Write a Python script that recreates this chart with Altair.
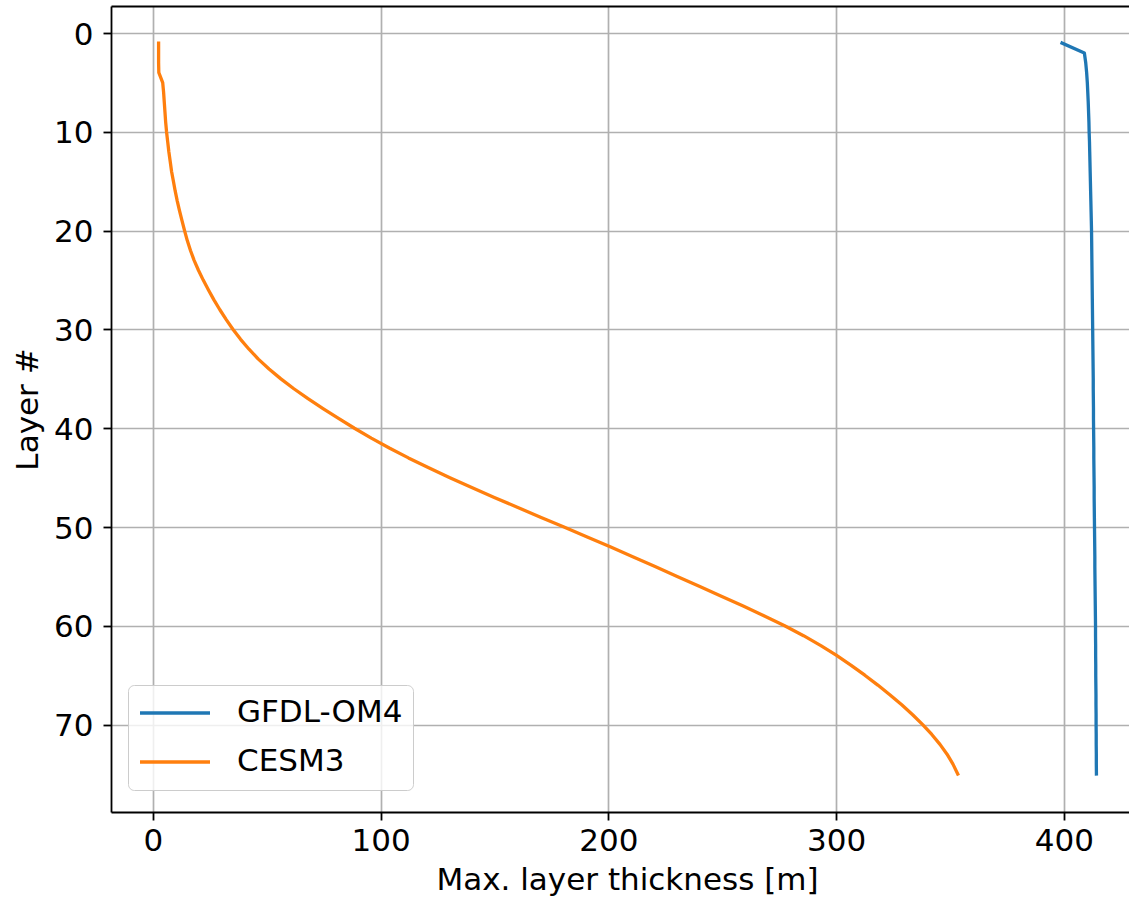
import altair as alt
import pandas as pd

# Layer index (1..75) and maximum layer thickness [m] for each model
layers = list(range(1, 76))

gfdl_om4 = [
    399.2, 409.0, 409.6, 410.0, 410.3, 410.5, 410.7, 410.85, 411.0, 411.1,
    411.25, 411.35, 411.45, 411.55, 411.65, 411.75, 411.85, 411.95, 412.05, 412.15,
    412.2, 412.25, 412.3, 412.35, 412.4, 412.45, 412.5, 412.55, 412.6, 412.65,
    412.7, 412.75, 412.8, 412.85, 412.9, 412.9, 412.95, 413.0, 413.0, 413.05,
    413.1, 413.15, 413.15, 413.2, 413.25, 413.3, 413.3, 413.35, 413.4, 413.45,
    413.5, 413.55, 413.6, 413.6, 413.65, 413.7, 413.75, 413.8, 413.85, 413.9,
    413.9, 413.95, 413.95, 414.0, 414.0, 414.05, 414.1, 414.1, 414.15, 414.15,
    414.2, 414.2, 414.25, 414.25, 414.3,
]

cesm3 = [
    2.5, 2.5, 2.5, 2.6, 4.3, 4.7, 5.0, 5.3, 5.6, 6.0,
    6.5, 7.0, 7.6, 8.2, 9.0, 9.8, 10.7, 11.7, 12.8, 13.9,
    15.1, 16.5, 18.1, 20.0, 22.1, 24.4, 26.8, 29.4, 32.2, 35.2,
    38.5, 42.2, 46.3, 51.0, 56.2, 61.9, 68.1, 74.7, 81.5, 88.5,
    95.9, 103.8, 112.2, 121.1, 130.4, 140.0, 149.9, 160.0, 170.2, 180.5,
    190.7, 200.8, 210.7, 220.5, 230.2, 239.9, 249.6, 259.2, 268.5, 277.4,
    285.7, 293.3, 300.2, 306.6, 312.6, 318.3, 323.7, 328.8, 333.6, 338.0,
    342.0, 345.6, 348.7, 351.3, 353.4,
]

models = ["GFDL-OM4", "CESM3"]
colors = ["#1f77b4", "#ff7f0e"]
x_ticks = [0, 100, 200, 300, 400]
y_ticks = [0, 10, 20, 30, 40, 50, 60, 70]

df = pd.concat(
    [
        pd.DataFrame({"layer": layers, "thickness": gfdl_om4, "model": models[0]}),
        pd.DataFrame({"layer": layers, "thickness": cesm3, "model": models[1]}),
    ],
    ignore_index=True,
)

FONT = "DejaVu Sans"
W, H = 1018, 806

x_scale = alt.Scale(domain=[-18.4, 428.6], nice=False, zero=False)
y_scale = alt.Scale(domain=[-2.75, 78.85], nice=False, zero=False, reverse=True)

y_enc = alt.Y(
    "layer:Q",
    scale=y_scale,
    axis=alt.Axis(
        values=y_ticks,
        title="Layer #",
        titleX=-74,
        titleY=403,
        titleAngle=270,
        titleAlign="center",
        titleBaseline="alphabetic",
        labelBaseline="alphabetic",
        labelOffset=11,
        labelPadding=10,
    ),
)

lines = alt.Chart(df).mark_line(strokeWidth=3.3, strokeCap="square", strokeJoin="round").encode(
    x=alt.X(
        "thickness:Q",
        scale=x_scale,
        axis=alt.Axis(
            values=x_ticks,
            title="Max. layer thickness [m]",
            titleX=516,
            titleY=77,
            titleAlign="center",
            titleBaseline="alphabetic",
            labelBaseline="alphabetic",
            labelPadding=30,
        ),
    ),
    y=y_enc,
    color=alt.Color(
        "model:N",
        scale=alt.Scale(domain=models, range=colors),
        legend=alt.Legend(
            title=None,
            orient="none",
            legendX=17,
            legendY=679,
            symbolType="stroke",
            symbolSize=4900,
            symbolStrokeWidth=3.3,
            labelFont=FONT,
            labelFontSize=31,
            labelColor="#000000",
            labelOffset=25,
            labelLimit=400,
            clipHeight=36,
            rowPadding=13,
            padding=10,
            fillColor="rgba(255,255,255,0.8)",
            strokeColor="#cccccc",
            cornerRadius=6,
        ),
    ),
    order=alt.Order("layer:Q"),
)

# Top frame line drawn as a label-free axis along the upper edge
top_frame = alt.Chart(df).mark_line(opacity=0).encode(
    x=alt.X(
        "thickness:Q",
        scale=x_scale,
        axis=alt.Axis(
            orient="top", labels=False, ticks=False, grid=False, title=None, domain=True
        ),
    ),
    y=y_enc,
    detail="model:N",
    order=alt.Order("layer:Q"),
)

chart = (
    alt.layer(lines, top_frame)
    .resolve_axis(x="independent")
    .properties(
        width=W,
        height=H,
        autosize=alt.AutoSizeParams(type="none"),
        padding={"left": 111, "top": 6, "right": 0, "bottom": 85},
        background="white",
    )
    .configure_view(stroke=None)
    .configure_axis(
        labelFont=FONT,
        labelFontSize=31,
        labelColor="#000000",
        titleFont=FONT,
        titleFontSize=31,
        titleFontWeight="normal",
        titleColor="#000000",
        domainColor="#000000",
        domainWidth=1.8,
        tickColor="#000000",
        tickWidth=1.8,
        tickSize=8,
        gridColor="#b0b0b0",
        gridWidth=1.7,
        gridOpacity=1,
    )
)

chart.save("out.html", embed_options={"renderer": "svg", "actions": False})
